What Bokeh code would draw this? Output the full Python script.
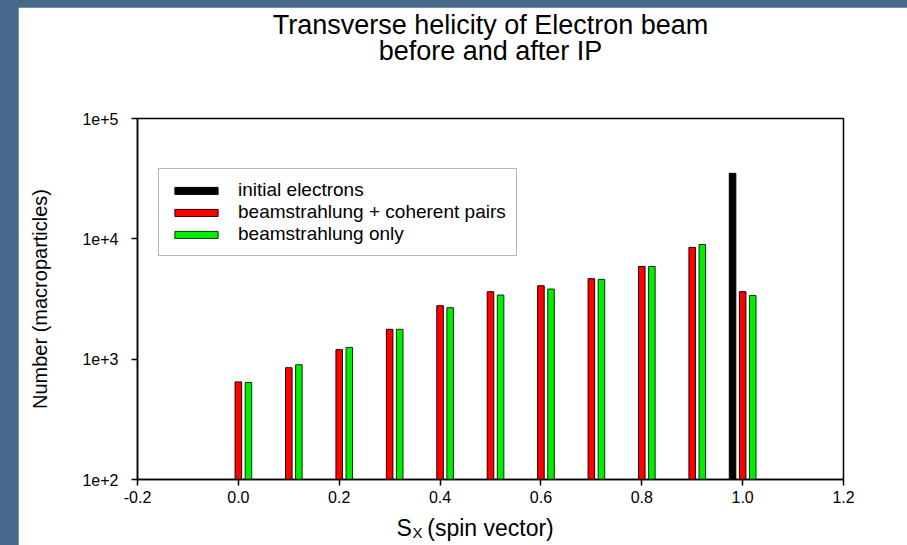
from bokeh.plotting import figure
from bokeh.models import (ColumnDataSource, FixedTicker, Legend, LegendItem,
                          Label, Range1d, Title)
from bokeh.layouts import column
from bokeh.transform import dodge
from bokeh.embed import file_html
from bokeh.resources import INLINE

# ---------------- data ----------------
title_lines = ["Transverse helicity of Electron beam", "before and after IP"]
x_label_main = "S"
x_label_sub = "X"
x_label_rest = "(spin vector)"
y_label = "Number (macroparticles)"
series_names = ["initial electrons", "beamstrahlung + coherent pairs", "beamstrahlung only"]

sx = [0.0, 0.1, 0.2, 0.3, 0.4, 0.5, 0.6, 0.7, 0.8, 0.9, 1.0]
counts_pairs = [647, 849, 1199, 1770, 2782, 3637, 4076, 4667, 5900, 8490, 3637]
counts_only = [640, 899, 1253, 1770, 2679, 3411, 3828, 4600, 5900, 8980, 3380]
sx_initial = [0.98]
counts_initial = [35000]

x_ticks = [-0.2, 0.0, 0.2, 0.4, 0.6, 0.8, 1.0, 1.2]
x_tick_labels = ["-0.2", "0.0", "0.2", "0.4", "0.6", "0.8", "1.0", "1.2"]
y_ticks = [100, 1000, 10000, 100000]
y_tick_labels = ["1e+2", "1e+3", "1e+4", "1e+5"]

# ---------------- style ----------------
FONT = "Liberation Sans"
BG = "#47698c"
RED = "#ff0000"
GREEN = "#00ee00"
BAR_W = 0.013

p = figure(width=889, height=538,
           x_range=Range1d(-0.2, 1.2), y_range=Range1d(100, 100000),
           y_axis_type="log", output_backend="svg", toolbar_location=None,
           min_border_left=119, min_border_right=64,
           min_border_top=111, min_border_bottom=66,
           background_fill_color="white", border_fill_color="white",
           outline_line_color="black", outline_line_width=1.5)
p.grid.visible = False
p.margin = (7, 0, 0, 18)
p.title.visible = False

# title: two centred lines; a blank spacer row keeps them at the top
t_kw = dict(align="center", text_font=FONT, text_font_size="27px",
            text_font_style="normal", text_color="black")
p.add_layout(Title(text=" ", standoff=27, **t_kw), "above")
p.add_layout(Title(text=title_lines[1], standoff=-13, **t_kw), "above")
p.add_layout(Title(text=title_lines[0], standoff=1, **t_kw), "above")

src_pairs = ColumnDataSource(dict(x=sx, top=counts_pairs))
src_only = ColumnDataSource(dict(x=sx, top=counts_only))
src_init = ColumnDataSource(dict(x=sx_initial, top=counts_initial))

r_init = p.vbar(x="x", top="top", bottom=100, width=BAR_W, source=src_init,
                fill_color="black", line_color="black", line_width=1)
r_pairs = p.vbar(x=dodge("x", 0.0, range=p.x_range), top="top", bottom=100,
                 width=BAR_W, source=src_pairs,
                 fill_color=RED, line_color="#200000", line_width=1)
r_only = p.vbar(x=dodge("x", 0.02, range=p.x_range), top="top", bottom=100,
                width=BAR_W, source=src_only,
                fill_color=GREEN, line_color="#103010", line_width=1)

# axes
for ax in (p.xaxis[0], p.yaxis[0]):
    ax.axis_line_color = "black"
    ax.axis_line_width = 1.5
    ax.major_tick_line_color = "black"
    ax.major_tick_line_width = 1.5
    ax.major_tick_out = 6
    ax.major_tick_in = 0
    ax.minor_tick_line_color = None
    ax.major_label_text_font = FONT
    ax.major_label_text_font_size = "16px"
    ax.major_label_text_color = "black"
    ax.axis_label_text_font = FONT
    ax.axis_label_text_font_style = "normal"
    ax.axis_label_text_color = "black"

p.xaxis.ticker = FixedTicker(ticks=x_ticks)
p.xaxis.major_label_overrides = dict(zip(x_ticks, x_tick_labels))
p.xaxis.major_label_standoff = 5
p.xaxis.axis_label = x_label_rest
p.xaxis.axis_label_text_font_size = "23px"
p.xaxis.axis_label_standoff = 9

p.yaxis.ticker = FixedTicker(ticks=y_ticks)
p.yaxis.major_label_overrides = dict(zip(y_ticks, y_tick_labels))
p.yaxis.major_label_standoff = 13
p.yaxis.axis_label = y_label
p.yaxis.axis_label_text_font_size = "20px"
p.yaxis.axis_label_standoff = 28

# "S" with subscript "X" in front of the x axis label (placed in the empty right margin panel)
lab_kw = dict(x_units="screen", y_units="screen", text_font=FONT,
              text_color="black", text_baseline="alphabetic")
p.add_layout(Label(x=-447, y=-48, text=x_label_main, text_font_size="23px", **lab_kw), "right")
p.add_layout(Label(x=-446, y=-53, text=x_label_sub, text_font_size="15px", **lab_kw), "right")

legend = Legend(items=[LegendItem(label=series_names[0], renderers=[r_init]),
                       LegendItem(label=series_names[1], renderers=[r_pairs]),
                       LegendItem(label=series_names[2], renderers=[r_only])],
                location=(21, 223))
legend.label_text_font = FONT
legend.label_text_font_size = "19px"
legend.label_text_color = "black"
legend.glyph_width = 54
legend.glyph_height = 9
legend.label_height = 21
legend.label_standoff = 15
legend.spacing = 0
legend.padding = 10
legend.margin = 0
legend.border_line_color = "#707070"
legend.border_line_width = 1
legend.background_fill_color = "white"
legend.background_fill_alpha = 1
p.add_layout(legend, "center")

page = column(p, width=907, height=545, styles={"background-color": BG})

open("out.html", "w").write(file_html(page, INLINE))
